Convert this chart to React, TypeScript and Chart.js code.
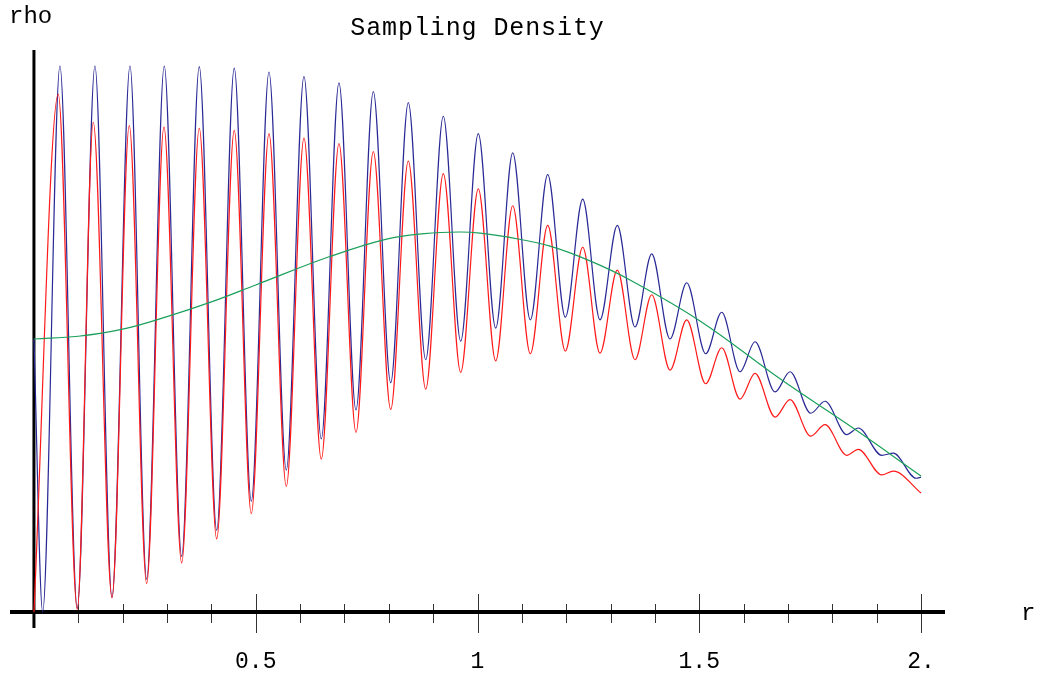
import React, { useEffect, useRef } from "react";
import { Chart, registerables } from "chart.js";

Chart.register(...registerables);

// ---- data ----
const blueR = [
  0, 0.0196, 0.0586, 0.0976, 0.1375, 0.1759, 0.2165, 0.2541, 0.2938, 0.333,
  0.3727, 0.412, 0.4516, 0.49, 0.5299, 0.5689, 0.6088, 0.6478, 0.6877, 0.726,
  0.7651, 0.8043, 0.844, 0.8832, 0.9229, 0.9621, 1.0018, 1.041, 1.0794, 1.1191,
  1.1583, 1.198, 1.2372, 1.2762, 1.3152, 1.3551, 1.3928, 1.434, 1.4717, 1.5145,
  1.5506, 1.5919, 1.6257, 1.6708, 1.7046, 1.7513, 1.7835, 1.8325, 1.8586, 1.9114,
  1.9375, 1.9887, 2.0,
];
const blueRho = [
  0.5, 0.0, 1.0, 0.007, 1.0, 0.027, 1.0, 0.06, 1.0, 0.102,
  0.999, 0.15, 0.996, 0.203, 0.989, 0.26, 0.981, 0.317, 0.969, 0.37,
  0.953, 0.42, 0.933, 0.462, 0.908, 0.496, 0.876, 0.52, 0.841, 0.535,
  0.801, 0.54, 0.756, 0.535, 0.708, 0.522, 0.656, 0.5, 0.603, 0.473,
  0.549, 0.44, 0.495, 0.403, 0.44, 0.364, 0.386, 0.325, 0.337, 0.287,
  0.291, 0.245, 0.247,
];

const redR = [
  0, 0.0548, 0.0976, 0.1337, 0.1759, 0.2149, 0.2541, 0.2931, 0.333, 0.3727,
  0.412, 0.4516, 0.49, 0.5299, 0.5689, 0.6088, 0.6478, 0.6877, 0.726, 0.7651,
  0.8043, 0.844, 0.8832, 0.9229, 0.9621, 1.0018, 1.041, 1.0794, 1.1191, 1.1583,
  1.198, 1.2372, 1.2762, 1.3152, 1.3551, 1.3928, 1.434, 1.4717, 1.5145, 1.5506,
  1.5919, 1.6257, 1.6708, 1.7046, 1.7513, 1.7835, 1.8325, 1.8586, 1.9114, 1.9375,
  2.0,
];
const redRho = [
  0.0, 0.948, 0.005, 0.897, 0.026, 0.891, 0.052, 0.888, 0.09, 0.886,
  0.134, 0.882, 0.18, 0.876, 0.23, 0.868, 0.28, 0.858, 0.329, 0.843,
  0.371, 0.826, 0.408, 0.803, 0.439, 0.775, 0.46, 0.744, 0.473, 0.708,
  0.478, 0.668, 0.474, 0.626, 0.462, 0.581, 0.443, 0.535, 0.418, 0.484,
  0.39, 0.437, 0.357, 0.389, 0.322, 0.343, 0.287, 0.298, 0.251, 0.258,
  0.218,
];

const greenR = [
  0, 0.1, 0.2, 0.3, 0.4, 0.5, 0.667, 0.795, 0.88, 0.96, 1.006, 1.073,
  1.1635, 1.2537, 1.3439, 1.5017, 1.6821, 1.85, 2.0,
];
const greenRho = [
  0.5, 0.505, 0.518, 0.541, 0.568, 0.599, 0.651, 0.683, 0.693, 0.696, 0.694, 0.686,
  0.67, 0.643, 0.608, 0.533, 0.427, 0.335, 0.249,
];

const majorTicks = [0.5, 1, 1.5, 2];
const majorTickLabels = ["0.5", "1", "1.5", "2."];
const minorTicks = [
  0.1, 0.2, 0.3, 0.4, 0.6, 0.7, 0.8, 0.9, 1.1, 1.2, 1.3, 1.4, 1.6, 1.7, 1.8, 1.9,
];

const titleText = "Sampling Density";
const xLabel = "r";
const yLabel = "rho";

const toPoints = (xs: number[], ys: number[]) => xs.map((x, i) => ({ x, y: ys[i] }));

const MONO = '"Liberation Mono", "DejaVu Sans Mono", monospace';

const axesPlugin = {
  id: "mmaAxes",
  beforeDatasetsDraw(chart: any) {
    const { ctx, chartArea } = chart;
    const xs = chart.scales.x;
    const ys = chart.scales.y;
    const y0 = ys.getPixelForValue(0);
    const x0 = xs.getPixelForValue(0);
    ctx.save();
    // ticks
    ctx.strokeStyle = "#333";
    ctx.lineWidth = 1;
    minorTicks.forEach((t) => {
      const px = Math.round(xs.getPixelForValue(t)) + 0.5;
      ctx.beginPath();
      ctx.moveTo(px, y0 - 8);
      ctx.lineTo(px, y0 + 11);
      ctx.stroke();
    });
    majorTicks.forEach((t) => {
      const px = Math.round(xs.getPixelForValue(t)) + 0.5;
      ctx.beginPath();
      ctx.moveTo(px, y0 - 18);
      ctx.lineTo(px, y0 + 21);
      ctx.stroke();
    });
    // axis lines
    ctx.strokeStyle = "#000";
    ctx.lineWidth = 4;
    ctx.beginPath();
    ctx.moveTo(chartArea.left, y0);
    ctx.lineTo(chartArea.right, y0);
    ctx.stroke();
    ctx.lineWidth = 3;
    ctx.beginPath();
    ctx.moveTo(x0, chartArea.top);
    ctx.lineTo(x0, chartArea.bottom);
    ctx.stroke();
    // tick labels
    ctx.fillStyle = "#000";
    ctx.font = `23px ${MONO}`;
    ctx.textAlign = "center";
    ctx.textBaseline = "alphabetic";
    majorTicks.forEach((t, i) => {
      ctx.fillText(majorTickLabels[i], xs.getPixelForValue(t), y0 + 56);
    });
    // axis labels
    ctx.font = `24px ${MONO}`;
    ctx.textAlign = "left";
    ctx.fillText(yLabel, 9, 23);
    ctx.fillText(xLabel, 1021, y0 + 8);
    // title
    ctx.font = `25px ${MONO}`;
    ctx.textAlign = "center";
    try {
      (ctx as any).letterSpacing = "0.9px";
    } catch (e) {}
    ctx.fillText(titleText, xs.getPixelForValue(1), 35);
    ctx.restore();
  },
};

export default function App() {
  const ref = useRef<HTMLCanvasElement | null>(null);
  useEffect(() => {
    if (!ref.current) return;
    const line = (data: any[], color: string, smooth: boolean) => ({
      data,
      borderColor: color,
      backgroundColor: color,
      borderWidth: 1.2,
      pointRadius: 0,
      showLine: true,
      fill: false,
      ...(smooth
        ? { tension: 0.4 }
        : { cubicInterpolationMode: "monotone" as const }),
    });
    const chart = new Chart(ref.current, {
      type: "scatter",
      data: {
        datasets: [
          line(toPoints(greenR, greenRho), "#1aa05a", true),
          line(toPoints(redR, redRho), "#ff1a1a", false),
          line(toPoints(blueR, blueRho), "#2a2a96", false),
        ],
      },
      options: {
        responsive: false,
        animation: false,
        layout: { padding: { left: 10, right: 94, top: 50, bottom: 49 } },
        plugins: {
          legend: { display: false },
          tooltip: { enabled: false },
          title: { display: false },
        },
        scales: {
          x: { type: "linear", display: false, min: -0.054, max: 2.054 },
          y: { type: "linear", display: false, min: -0.0293, max: 1.0293 },
        },
      },
      plugins: [axesPlugin],
    });
    return () => chart.destroy();
  }, []);
  return (
    <div style={{ position: "fixed", left: 0, top: 0, width: 1039, height: 677, background: "#fff" }}>
      <canvas ref={ref} width={1039} height={677} style={{ display: "block" }} />
    </div>
  );
}
